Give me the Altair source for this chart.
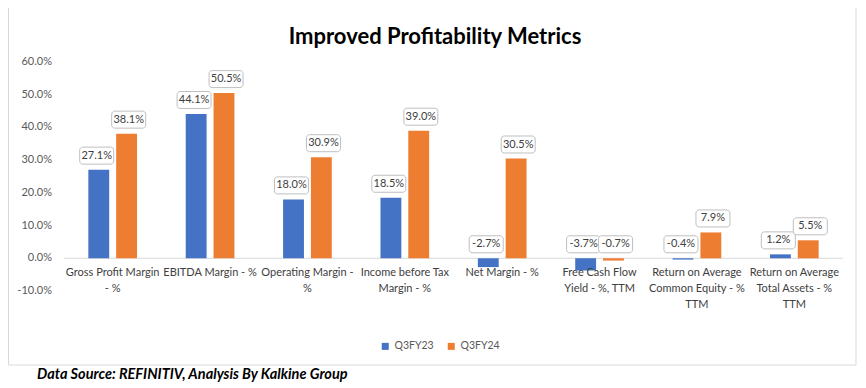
import altair as alt
import pandas as pd

# ---------------- data ----------------
categories = [
    "Gross Profit Margin - %",
    "EBITDA Margin - %",
    "Operating Margin - %",
    "Income before Tax Margin - %",
    "Net Margin - %",
    "Free Cash Flow Yield - %, TTM",
    "Return on Average Common Equity - % TTM",
    "Return on Average Total Assets - % TTM",
]
category_lines = [
    ["Gross Profit Margin", "- %"],
    ["EBITDA Margin - %"],
    ["Operating Margin -", "%"],
    ["Income before Tax", "Margin - %"],
    ["Net Margin - %"],
    ["Free Cash Flow", "Yield - %, TTM"],
    ["Return on Average", "Common Equity - %", "TTM"],
    ["Return on Average", "Total Assets - %", "TTM"],
]
series = ["Q3FY23", "Q3FY24"]
q3fy23 = [27.1, 44.1, 18.0, 18.5, -2.7, -3.7, -0.4, 1.2]
q3fy24 = [38.1, 50.5, 30.9, 39.0, 30.5, -0.7, 7.9, 5.5]
y_ticks = [-10, 0, 10, 20, 30, 40, 50, 60]
colors = ["#4472C4", "#ED7D31"]

TITLE = "Improved Profitability Metrics"
SOURCE = "Data Source: REFINITIV, Analysis By Kalkine Group"

# ---------------- tables ----------------
rows = []
for c, a, b in zip(categories, q3fy23, q3fy24):
    rows.append({"cat": c, "series": series[0], "value": a})
    rows.append({"cat": c, "series": series[1], "value": b})
df = pd.DataFrame(rows)
df["label"] = df["value"].map(lambda v: f"{v:.1f}%")
df["anchor"] = df["value"].clip(lower=0)

df_cat = pd.DataFrame({"cat": categories, "lines": ["\n".join(l) for l in category_lines]})
df_ticks = pd.DataFrame({"value": y_ticks, "label": [f"{t:.1f}%" for t in y_ticks]})

FONT = "Lato"
W, H = 779, 229

x_enc = alt.X("cat:N", sort=categories,
              scale=alt.Scale(paddingInner=0.5, paddingOuter=0.25), axis=None)
y_scale = alt.Scale(domain=[-10, 60], nice=False, zero=False)

frame = alt.Chart(pd.DataFrame({"k": [0]})).mark_rect(
    fillOpacity=0, stroke="#d9d9d9", strokeWidth=1
).encode(x=alt.value(-55.5), x2=alt.value(792), y=alt.value(-54.5), y2=alt.value(303))

zero_rule = alt.Chart(pd.DataFrame({"value": [0]})).mark_rule(
    color="#d9d9d9", strokeWidth=1
).encode(y=alt.Y("value:Q", scale=y_scale, axis=None), x=alt.value(0), x2=alt.value(W))

y_labels = alt.Chart(df_ticks).mark_text(
    font=FONT, fontSize=11, color="#595959", align="right", baseline="middle"
).encode(y=alt.Y("value:Q", scale=y_scale, axis=None), x=alt.value(-12), text="label:N")

bars = alt.Chart(df).mark_bar().encode(
    x=x_enc,
    xOffset=alt.XOffset("series:N", sort=series, scale=alt.Scale(paddingInner=0.25)),
    y=alt.Y("value:Q", scale=y_scale, axis=None),
    color=alt.Color("series:N", sort=series,
                    scale=alt.Scale(domain=series, range=colors),
                    legend=alt.Legend(orient="none", legendX=316, legendY=279,
                                      direction="horizontal", title=None,
                                      symbolType="square", symbolSize=49,
                                      symbolStrokeWidth=0, labelFontSize=10.5,
                                      labelFont=FONT, labelColor="#595959",
                                      columnPadding=12, labelOffset=4)),
)

BOX = ("M-0.82,-0.5 H0.82 A0.18,0.18 0 0 1 1,-0.32 V0.32 A0.18,0.18 0 0 1 0.82,0.5 "
       "H-0.82 A0.18,0.18 0 0 1 -1,0.32 V-0.32 A0.18,0.18 0 0 1 -0.82,-0.5 Z")

label_layers = []
for s, dx in zip(series, [-16, 16]):
    base = alt.Chart(df).transform_filter(alt.datum.series == s)
    label_layers.append(
        base.mark_point(shape=BOX, size=34 * 34, filled=True, fill="white",
                        stroke="#bfbfbf", strokeWidth=1, opacity=1,
                        xOffset=dx, yOffset=-14).encode(
            x=x_enc, y=alt.Y("anchor:Q", scale=y_scale, axis=None))
    )
    label_layers.append(
        base.mark_text(font=FONT, fontSize=11, color="#404040", xOffset=dx,
                       yOffset=-14, baseline="middle", align="center").encode(
            x=x_enc, y=alt.Y("anchor:Q", scale=y_scale, axis=None), text="label:N")
    )

cat_labels = alt.Chart(df_cat).mark_text(
    font=FONT, fontSize=11, color="#404040", baseline="top", align="center",
    lineBreak="\n", lineHeight=16
).encode(x=x_enc, y=alt.value(205), text="lines:N")

title = alt.Chart(pd.DataFrame({"t": [TITLE]})).mark_text(
    font=FONT, fontSize=22, fontWeight="bold", color="#000000", align="center",
    baseline="middle"
).encode(x=alt.value(371), y=alt.value(-25), text="t:N")

source = alt.Chart(pd.DataFrame({"t": [SOURCE]})).mark_text(
    font=FONT, fontSize=14.5, fontWeight="bold", fontStyle="italic", color="#000000",
    align="left", baseline="middle"
).encode(x=alt.value(-27), y=alt.value(313), text="t:N")

chart = alt.layer(
    frame, zero_rule, y_labels, bars, *label_layers, cat_labels, title, source
).properties(
    width=W, height=H,
    autosize=alt.AutoSizeParams(type="none"),
    padding={"left": 56, "top": 54, "right": 15, "bottom": 95},
    background="white",
).configure_view(stroke=None)

chart.save("out.html", embed_options={"renderer": "svg", "actions": False})
